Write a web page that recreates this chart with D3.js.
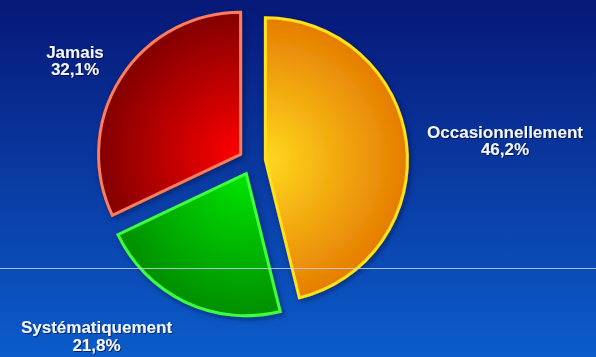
<!DOCTYPE html>
<html>
<head>
<meta charset="utf-8">
<script src="https://cdn.jsdelivr.net/npm/d3@7"></script>
<style>
  html, body { margin: 0; padding: 0; background: #0a2f8c; }
  svg { display: block; }
</style>
</head>
<body>
<svg id="chart" width="596" height="357"></svg>
<script>
// Survey answers, in drawing order (clockwise from 12 o'clock)
const categories = ["Occasionnellement", "Systématiquement", "Jamais"];
const values = [46.2, 21.8, 32.1];
const valueLabels = ["46,2%", "21,8%", "32,1%"];

const W = 596, H = 357;
const cx = 252, cy = 161.5;   // pie centre
const radius = 142;
const explode = 13.5;         // how far each slice is pulled out

const palette = {
  "Occasionnellement": { inner: "#ffd81e", outer: "#e47800", stroke: "#ffe21a" },
  "Systématiquement":  { inner: "#00e400", outer: "#008a00", stroke: "#3cff3c" },
  "Jamais":            { inner: "#ff0000", outer: "#7c0000", stroke: "#ff7c5c" }
};

// label anchor (text centre x, first baseline y) per category
const labelPos = {
  "Occasionnellement": [505, 137.5],
  "Systématiquement":  [96.5, 333],
  "Jamais":            [75, 57.5]
};
const lineStep = 17.5;

const svg = d3.select("#chart");
const defs = svg.append("defs");

// background: navy at the top fading to a brighter blue
const bg = defs.append("linearGradient").attr("id", "bg")
  .attr("x1", 0).attr("y1", 0).attr("x2", 0).attr("y2", 1);
bg.append("stop").attr("offset", "0%").attr("stop-color", "#061878");
bg.append("stop").attr("offset", "55%").attr("stop-color", "#0a3ea6");
bg.append("stop").attr("offset", "100%").attr("stop-color", "#0b5ccb");
svg.append("rect").attr("width", W).attr("height", H).attr("fill", "url(#bg)");

// soft drop shadow for the slices
const sh = defs.append("filter").attr("id", "shadow")
  .attr("x", "-20%").attr("y", "-20%").attr("width", "140%").attr("height", "140%");
sh.append("feDropShadow").attr("dx", 1.5).attr("dy", 2).attr("stdDeviation", 2.5)
  .attr("flood-color", "#000a30").attr("flood-opacity", 0.55);

const txtSh = defs.append("filter").attr("id", "textShadow")
  .attr("x", "-10%").attr("y", "-30%").attr("width", "120%").attr("height", "160%");
txtSh.append("feDropShadow").attr("dx", 1).attr("dy", 1).attr("stdDeviation", 0.6)
  .attr("flood-color", "#000020").attr("flood-opacity", 0.6);

const pie = d3.pie().sort(null).value(d => d.value);
const data = categories.map((c, i) => ({ name: c, value: values[i], label: valueLabels[i] }));
const arcs = pie(data);

const arc = d3.arc().innerRadius(0).outerRadius(radius);

// one radial gradient per slice, bright at the slice's point, darker at the rim
arcs.forEach((a, i) => {
  const p = palette[a.data.name];
  const g = defs.append("radialGradient").attr("id", "grad" + i)
    .attr("gradientUnits", "userSpaceOnUse")
    .attr("cx", 0).attr("cy", 0).attr("r", radius * 1.05);
  g.append("stop").attr("offset", "0%").attr("stop-color", p.inner);
  g.append("stop").attr("offset", "100%").attr("stop-color", p.outer);
});

const slices = svg.append("g").attr("filter", "url(#shadow)");
slices.selectAll("path")
  .data(arcs)
  .join("path")
  .attr("transform", a => {
    const mid = (a.startAngle + a.endAngle) / 2;
    const dx = cx + Math.sin(mid) * explode;
    const dy = cy - Math.cos(mid) * explode;
    return `translate(${dx},${dy})`;
  })
  .attr("d", arc)
  .attr("fill", (a, i) => `url(#grad${i})`)
  .attr("stroke", a => palette[a.data.name].stroke)
  .attr("stroke-width", 3)
  .attr("stroke-linejoin", "miter");

// thin horizontal rule across the lower part
svg.append("line")
  .attr("x1", 0).attr("x2", W).attr("y1", 268.5).attr("y2", 268.5)
  .attr("stroke", "#c8d0ea").attr("stroke-width", 1).attr("opacity", 0.85);

// labels: category name and percentage, one text per line
const labels = svg.append("g")
  .attr("font-family", "'Liberation Sans', Arial, sans-serif")
  .attr("font-weight", "bold")
  .attr("font-size", "17px")
  .attr("fill", "#f4f6ff")
  .attr("text-anchor", "middle")
  .attr("filter", "url(#textShadow)");

arcs.forEach(a => {
  const [x, y] = labelPos[a.data.name];
  labels.append("text").attr("x", x).attr("y", y).text(a.data.name);
  labels.append("text").attr("x", x).attr("y", y + lineStep).text(a.data.label);
});
</script>
</body>
</html>
